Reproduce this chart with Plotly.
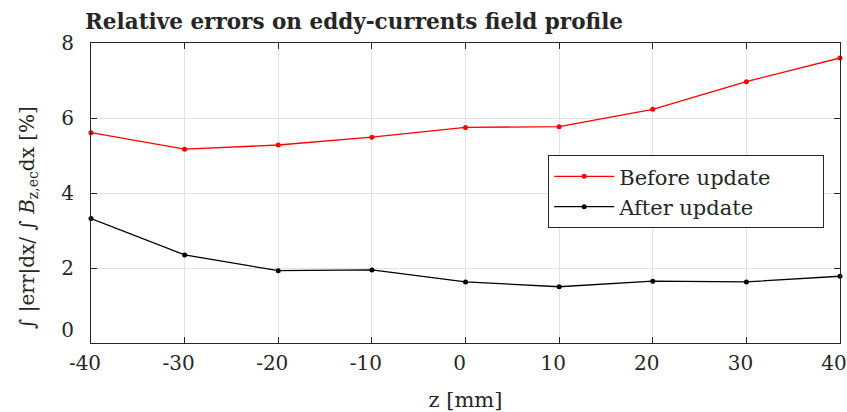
import plotly.graph_objects as go

z = [-40, -30, -20, -10, 0, 10, 20, 30, 40]
before = [5.61, 5.17, 5.28, 5.49, 5.75, 5.77, 6.23, 6.97, 7.60]
after = [3.32, 2.35, 1.93, 1.95, 1.63, 1.50, 1.65, 1.63, 1.78]
xticks = [-40, -30, -20, -10, 0, 10, 20, 30, 40]
yticks = [0, 2, 4, 6, 8]
ytext = ["0<br>\u00a0", "2", "4", "6", "8"]

FONT = "DejaVu Serif"
TXT = "#262626"
PAD = "\u00a0" * 7

fig = go.Figure()
fig.add_trace(go.Scatter(x=z, y=before, mode="lines+markers", name="Before update" + PAD,
                         line=dict(color="#ff0000", width=1.3),
                         marker=dict(color="#ff0000", size=5), cliponaxis=False))
fig.add_trace(go.Scatter(x=z, y=after, mode="lines+markers", name="After update",
                         line=dict(color="#000000", width=1.3),
                         marker=dict(color="#000000", size=5), cliponaxis=False))

axis_common = dict(showline=True, linecolor=TXT, linewidth=1.2, mirror="ticks",
                   ticks="inside", ticklen=6, tickcolor=TXT,
                   showgrid=True, gridcolor="#e3e3e3", gridwidth=1, zeroline=False,
                   automargin=False, ticklabeloverflow="allow",
                   tickfont=dict(family=FONT, size=20, color=TXT))

fig.update_layout(
    width=847, height=412,
    margin=dict(l=91, r=7, t=43, b=69),
    paper_bgcolor="white", plot_bgcolor="white",
    title=dict(text="<b>Relative errors on eddy-currents field profile</b>",
               x=85/847, xanchor="left", y=1-21/412, yanchor="middle",
               font=dict(family=FONT, size=21.5, color=TXT)),
    xaxis=dict(range=[-40, 40], tickvals=xticks, ticktext=[str(v) for v in xticks],
               ticklabelshift=-6, ticklabelstandoff=2,
               title=dict(text="z [mm]", font=dict(family=FONT, size=21, color=TXT), standoff=20),
               **axis_common),
    yaxis=dict(range=[0, 8], tickvals=yticks, ticktext=ytext, ticklabelstandoff=12,
               **axis_common),
    legend=dict(x=(548-91)/749, y=(343-155)/300, xanchor="left", yanchor="top",
                bgcolor="white", bordercolor=TXT, borderwidth=1.2,
                font=dict(family=FONT, size=21, color=TXT),
                itemwidth=60, tracegroupgap=4),
    showlegend=True,
    annotations=[dict(text="∫ |err|dx/ ∫ <i>B</i><sub>z,ec</sub>dx [%]",
                      xref="paper", yref="paper", x=(28-91)/749, y=(343-218)/300,
                      xanchor="center", yanchor="middle", textangle=-90, showarrow=False,
                      font=dict(family=FONT, size=20, color=TXT))],
)

fig.write_html("out.html", config={"displayModeBar": False},
               post_script="document.body.style.margin='0';document.body.style.overflow='hidden';")
